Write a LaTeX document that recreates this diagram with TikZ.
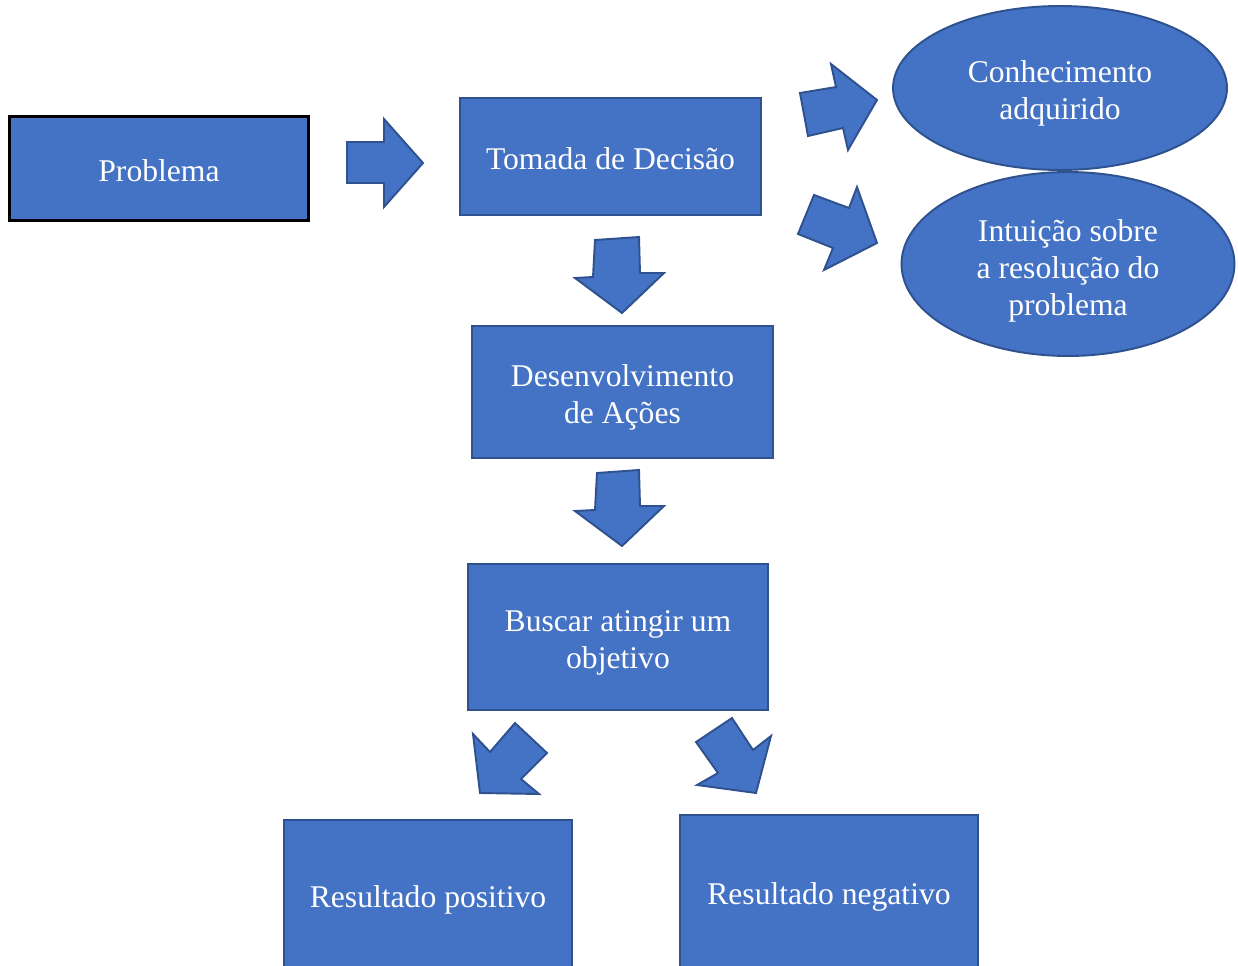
\documentclass[tikz,border=0pt]{standalone}
\usepackage{fontspec}
\setmainfont{Liberation Serif}
\usepackage{tikz}
\usetikzlibrary{shapes.geometric}

\definecolor{azul}{HTML}{4472C4}
\definecolor{borda}{HTML}{2F528F}

\newcommand{\topo}{\rule{0pt}{15.5pt}}
\newcommand{\desce}[1]{\rule{0pt}{#1}}

\tikzset{
  caixa/.style={rectangle, fill=azul, draw=borda, line width=1.1pt, inner sep=0pt,
    text=white, align=center, font=\fontsize{18}{21}\selectfont,
    execute at begin node=\topo},
  balao/.style={ellipse, fill=azul, draw=borda, line width=1.1pt, inner sep=0pt,
    text=white, align=center, font=\fontsize{18}{21}\selectfont},
  seta/.style={fill=azul, draw=borda, line width=1.1pt, line join=miter}
}

\begin{document}
\begin{tikzpicture}[x=0.02cm, y=-0.02cm]
  \useasboundingbox (0,0) rectangle (1238,966);
  \clip (0,0) rectangle (1238,966);

  % caixas
  \node[caixa, draw=black, line width=1.7pt, minimum width=6cm, minimum height=2.1cm] (problema) at (159,168.5) {Problema};
  \node[caixa, minimum width=6.02cm, minimum height=2.34cm] (decisao) at (610.5,156.5) {Tomada de Decisão};
  \node[caixa, minimum width=6.02cm, minimum height=2.64cm] (acoes) at (622.5,392) {\desce{18.5pt}Desenvolvimento\\de Ações};
  \node[caixa, minimum width=6cm, minimum height=2.92cm] (objetivo) at (618,637) {\desce{18.5pt}Buscar atingir um\\objetivo};
  \node[caixa, minimum width=5.76cm, minimum height=3.08cm] (positivo) at (428,897) {Resultado positivo};
  \node[caixa, minimum width=5.96cm, minimum height=3.16cm] (negativo) at (829,894) {Resultado negativo};

  % baloes
  \node[balao, minimum width=6.68cm, minimum height=3.28cm] (conhecimento) at (1060,88) {\desce{18.5pt}Conhecimento\\adquirido};
  \node[balao, minimum width=6.66cm, minimum height=3.68cm] (intuicao) at (1068,264) {\desce{20.5pt}Intuição sobre\\a resolução do\\problema};

  % setas
  \draw[seta] (347,142) -- (384,142) -- (384,119) -- (423,163) -- (384,207) -- (384,183) -- (347,183) -- cycle;
  \draw[seta] (800,93) -- (836,87) -- (831,64) -- (877,100) -- (848,150) -- (843,128) -- (808,136) -- cycle;
  \draw[seta] (814,195) -- (849,208) -- (857,187) -- (877,243) -- (824,270) -- (833,248) -- (798,234) -- cycle;
  \draw[seta] (595,240) -- (639,237) -- (640,273) -- (664,273) -- (622,313) -- (575,278) -- (593,277) -- cycle;
  \draw[seta] (597,473) -- (639,470) -- (640,506) -- (664,506) -- (622,546) -- (575,511) -- (595,510) -- cycle;
  \draw[seta] (473,734) -- (490,752) -- (515,723) -- (547,753) -- (521,779) -- (539,794) -- (480,793) -- cycle;
  \draw[seta] (696,742) -- (732,718) -- (753,750) -- (771,736) -- (756,793) -- (697,785) -- (718,773) -- cycle;
\end{tikzpicture}
\end{document}
